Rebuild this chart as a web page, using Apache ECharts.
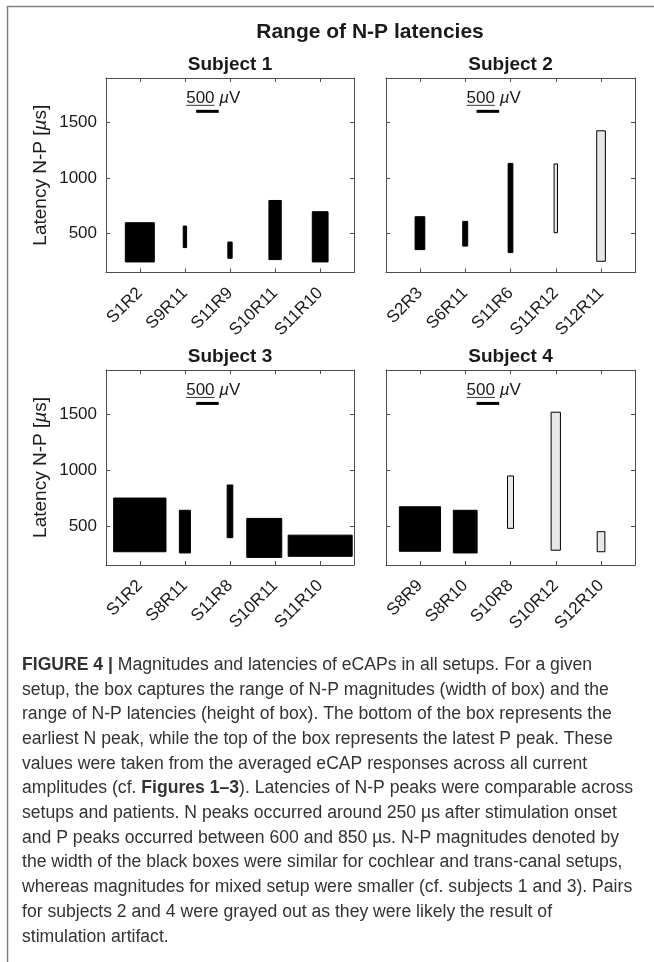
<!DOCTYPE html>
<html>
<head>
<meta charset="utf-8">
<script src="https://cdn.jsdelivr.net/npm/echarts@6/dist/echarts.min.js"></script>
<style>
  html, body { margin: 0; padding: 0; background: #ffffff; }
  #chart { width: 654px; height: 962px; }
</style>
</head>
<body>
<div id="chart"></div>
<script>
// ---- Setup names (x tick labels) for each subject ----
const subject1Setups = ['S1R2', 'S9R11', 'S11R9', 'S10R11', 'S11R10'];
const subject2Setups = ['S2R3', 'S6R11', 'S11R6', 'S11R12', 'S12R11'];
const subject3Setups = ['S1R2', 'S8R11', 'S11R8', 'S10R11', 'S11R10'];
const subject4Setups = ['S8R9', 'S8R10', 'S10R8', 'S10R12', 'S12R10'];

// ---- Range of N-P magnitudes per setup (box width, µV) ----
const subject1Magnitude = [643, 75, 95, 273, 350];
const subject2Magnitude = [215, 110, 105, 75, 190];
const subject3Magnitude = [1160, 245, 125, 776, 1420];
const subject4Magnitude = [909, 525, 133, 206, 170];

// ---- Earliest N peak latency (box bottom, µs) ----
const subject1NLatency = [245, 374, 278, 266, 245];
const subject2NLatency = [356, 388, 329, 508, 251];
const subject3NLatency = [269, 258, 395, 218, 228];
const subject4NLatency = [273, 258, 479, 283, 269];

// ---- Latest P peak latency (box top, µs) ----
const subject1PLatency = [598, 568, 424, 798, 697];
const subject2PLatency = [652, 610, 1132, 1127, 1425];
const subject3PLatency = [751, 641, 868, 568, 418];
const subject4PLatency = [673, 641, 949, 1521, 449];

// ---- Horizontal offset of a box from its setup position (axis units) ----
const subject1Offset = [0, 0, 0, 0, 0];
const subject2Offset = [0, 0, 0, 0, 0];
const subject3Offset = [0, 0, 0, -0.24, 0];
const subject4Offset = [0, 0, 0, 0, 0];

// ---- Pairs likely caused by stimulation artifact (drawn grey) ----
const subject1Grayed = [0, 0, 0, 0, 0];
const subject2Grayed = [0, 0, 0, 1, 1];
const subject3Grayed = [0, 0, 0, 0, 0];
const subject4Grayed = [0, 0, 1, 1, 1];

// ---- Axis ticks ----
const setupPositions = [1, 2, 3, 4, 5];
const latencyTicks = [500, 1000, 1500];

// ---- Magnitude scale bar ----
const scaleBarMagnitude = [500];   // µV
const scaleBarPosition = [2.5, 1600];

const UV_PER_AXIS_UNIT = 1000;
const X_MIN = 0.25, X_MAX = 5.75;
const Y_MIN = 150, Y_MAX = 1900;

const subjects = [
  { title: 'Subject 1', setups: subject1Setups, mag: subject1Magnitude, n: subject1NLatency, p: subject1PLatency, off: subject1Offset, gray: subject1Grayed },
  { title: 'Subject 2', setups: subject2Setups, mag: subject2Magnitude, n: subject2NLatency, p: subject2PLatency, off: subject2Offset, gray: subject2Grayed },
  { title: 'Subject 3', setups: subject3Setups, mag: subject3Magnitude, n: subject3NLatency, p: subject3PLatency, off: subject3Offset, gray: subject3Grayed },
  { title: 'Subject 4', setups: subject4Setups, mag: subject4Magnitude, n: subject4NLatency, p: subject4PLatency, off: subject4Offset, gray: subject4Grayed }
];

// panel boxes in pixels
const panels = [
  { left: 106, top: 78, width: 248, height: 194.5 },
  { left: 386, top: 78, width: 249, height: 194.5 },
  { left: 106, top: 370, width: 248, height: 195 },
  { left: 386, top: 370, width: 249, height: 195 }
];

const AXIS_COLOR = '#4d4d4d';
const TEXT_COLOR = '#1a1a1a';
const FONT = 'Liberation Sans, Arial, Helvetica, sans-serif';

const measureCtx = document.createElement('canvas').getContext('2d');
function textWidth(str, size, weight) {
  measureCtx.font = (weight || 'normal') + ' ' + size + 'px ' + FONT;
  return measureCtx.measureText(str).width;
}

const grids = [], xAxes = [], yAxes = [], series = [], graphics = [];

subjects.forEach(function (s, i) {
  const g = panels[i];
  const showY = (i % 2 === 0);
  grids.push({ left: g.left, top: g.top, width: g.width, height: g.height, containLabel: false });

  // bottom axis with setup names
  xAxes.push({
    type: 'value', gridIndex: i, min: X_MIN, max: X_MAX, position: 'bottom',
    axisLine: { show: true, lineStyle: { color: AXIS_COLOR, width: 1 } },
    axisTick: { show: true, inside: true, length: 4, customValues: setupPositions, lineStyle: { color: AXIS_COLOR } },
    axisLabel: {
      show: true, customValues: setupPositions, rotate: 45, margin: 18,
      fontSize: 17, fontFamily: FONT, color: TEXT_COLOR,
      formatter: function (v) { return s.setups[Math.round(v) - 1] || ''; }
    },
    splitLine: { show: false }
  });
  // top edge with inner ticks
  xAxes.push({
    type: 'value', gridIndex: i, min: X_MIN, max: X_MAX, position: 'top',
    axisLine: { show: true, lineStyle: { color: AXIS_COLOR, width: 1 } },
    axisTick: { show: true, inside: true, length: 4, customValues: setupPositions, lineStyle: { color: AXIS_COLOR } },
    axisLabel: { show: false },
    splitLine: { show: false }
  });
  // left latency axis
  yAxes.push({
    type: 'value', gridIndex: i, min: Y_MIN, max: Y_MAX, position: 'left',
    name: showY ? 'Latency N-P [{i|µ}s]' : '',
    nameLocation: 'middle', nameRotate: 90, nameGap: 56,
    nameTextStyle: { fontSize: 19, fontFamily: FONT, color: TEXT_COLOR, rich: { i: { fontStyle: 'italic', fontSize: 19, fontFamily: FONT, color: TEXT_COLOR } } },
    axisLine: { show: true, lineStyle: { color: AXIS_COLOR, width: 1 } },
    axisTick: { show: true, inside: true, length: 4, customValues: latencyTicks, lineStyle: { color: AXIS_COLOR } },
    axisLabel: {
      show: showY, customValues: latencyTicks, margin: 9, fontSize: 17, fontFamily: FONT, color: TEXT_COLOR,
      formatter: function (v) { return String(v); }
    },
    splitLine: { show: false }
  });
  // right edge with inner ticks
  yAxes.push({
    type: 'value', gridIndex: i, min: Y_MIN, max: Y_MAX, position: 'right',
    axisLine: { show: true, lineStyle: { color: AXIS_COLOR, width: 1 } },
    axisTick: { show: true, inside: true, length: 4, customValues: latencyTicks, lineStyle: { color: AXIS_COLOR } },
    axisLabel: { show: false },
    splitLine: { show: false }
  });

  // N-P boxes
  const boxData = s.setups.map(function (name, k) {
    return [setupPositions[k] + s.off[k], s.mag[k] / UV_PER_AXIS_UNIT, s.n[k], s.p[k], s.gray[k]];
  });
  series.push({
    type: 'custom', name: s.title, xAxisIndex: i * 2, yAxisIndex: i * 2,
    data: boxData, clip: false, silent: true,
    encode: { x: 0, y: [2, 3] },
    renderItem: function (params, api) {
      const cx = api.value(0), w = api.value(1), lo = api.value(2), hi = api.value(3), gray = api.value(4);
      const a = api.coord([cx - w / 2, hi]);
      const b = api.coord([cx + w / 2, lo]);
      return {
        type: 'rect',
        shape: { x: a[0], y: a[1], width: b[0] - a[0], height: b[1] - a[1] },
        style: { fill: gray ? '#e8e8e8' : '#000000', stroke: '#000000', lineWidth: 1 }
      };
    }
  });

  // magnitude scale bar with its label
  series.push({
    type: 'custom', name: 'scale', xAxisIndex: i * 2, yAxisIndex: i * 2,
    data: [[scaleBarPosition[0], scaleBarMagnitude[0] / UV_PER_AXIS_UNIT, scaleBarPosition[1], scaleBarMagnitude[0]]],
    clip: false, silent: true,
    encode: { x: 0, y: 2 },
    renderItem: function (params, api) {
      const cx = api.value(0), w = api.value(1), y = api.value(2), uv = api.value(3);
      const a = api.coord([cx - w / 2, y]);
      const b = api.coord([cx + w / 2, y]);
      const num = String(uv);
      const tx = a[0] - 10;
      const ty = a[1] - 13;
      const numW = textWidth(num, 17);
      return {
        type: 'group',
        children: [
          { type: 'line', shape: { x1: a[0], y1: a[1], x2: b[0], y2: b[1] }, style: { stroke: '#000', lineWidth: 3 } },
          { type: 'line', shape: { x1: tx, y1: ty + 7, x2: tx + numW, y2: ty + 7 }, style: { stroke: '#000', lineWidth: 0.8 } },
          {
            type: 'text', x: tx, y: ty,
            style: {
              text: num + ' {i|µ}V', fontSize: 17, fontFamily: FONT, fill: TEXT_COLOR,
              align: 'left', verticalAlign: 'middle',
              rich: { i: { fontStyle: 'italic', fontSize: 17, fontFamily: FONT, fill: TEXT_COLOR } }
            }
          }
        ]
      };
    }
  });

  // subject title
  graphics.push({
    type: 'text', x: g.left + g.width / 2, y: g.top - 13,
    style: { text: s.title, fontSize: 19, fontWeight: 'bold', fontFamily: FONT, fill: TEXT_COLOR, align: 'center', verticalAlign: 'middle' }
  });
});

// main title
graphics.push({
  type: 'text', x: 370, y: 32,
  style: { text: 'Range of N-P latencies', fontSize: 21, fontWeight: 'bold', fontFamily: FONT, fill: TEXT_COLOR, align: 'center', verticalAlign: 'middle' }
});

// figure frame (top and left rules)
graphics.push({ type: 'line', shape: { x1: 7, y1: 6.5, x2: 654, y2: 6.5 }, style: { stroke: '#808080', lineWidth: 1.5 } });
graphics.push({ type: 'line', shape: { x1: 7.5, y1: 6, x2: 7.5, y2: 962 }, style: { stroke: '#808080', lineWidth: 1.5 } });

// caption
const captionLines = [
  '{b|FIGURE 4 |} Magnitudes and latencies of eCAPs in all setups. For a given',
  'setup, the box captures the range of N-P magnitudes (width of box) and the',
  'range of N-P latencies (height of box). The bottom of the box represents the',
  'earliest N peak, while the top of the box represents the latest P peak. These',
  'values were taken from the averaged eCAP responses across all current',
  'amplitudes (cf. {b|Figures 1–3}). Latencies of N-P peaks were comparable across',
  'setups and patients. N peaks occurred around 250 µs after stimulation onset',
  'and P peaks occurred between 600 and 850 µs. N-P magnitudes denoted by',
  'the width of the black boxes were similar for cochlear and trans-canal setups,',
  'whereas magnitudes for mixed setup were smaller (cf. subjects 1 and 3). Pairs',
  'for subjects 2 and 4 were grayed out as they were likely the result of',
  'stimulation artifact.'
];
const CAPTION_FONT = 17.6;
captionLines.forEach(function (line, k) {
  graphics.push({
    type: 'text', x: 22, y: 665 + k * 24.7,
    style: {
      text: line, fontSize: CAPTION_FONT, fontFamily: FONT, fill: '#333333',
      align: 'left', verticalAlign: 'middle',
      rich: { b: { fontWeight: 'bold', fontSize: CAPTION_FONT, fontFamily: FONT, fill: '#333333' } }
    }
  });
});

const chart = echarts.init(document.getElementById('chart'), null, { renderer: 'canvas' });
chart.setOption({
  backgroundColor: '#ffffff',
  animation: false,
  grid: grids,
  xAxis: xAxes,
  yAxis: yAxes,
  series: series,
  graphic: graphics
});
</script>
</body>
</html>
